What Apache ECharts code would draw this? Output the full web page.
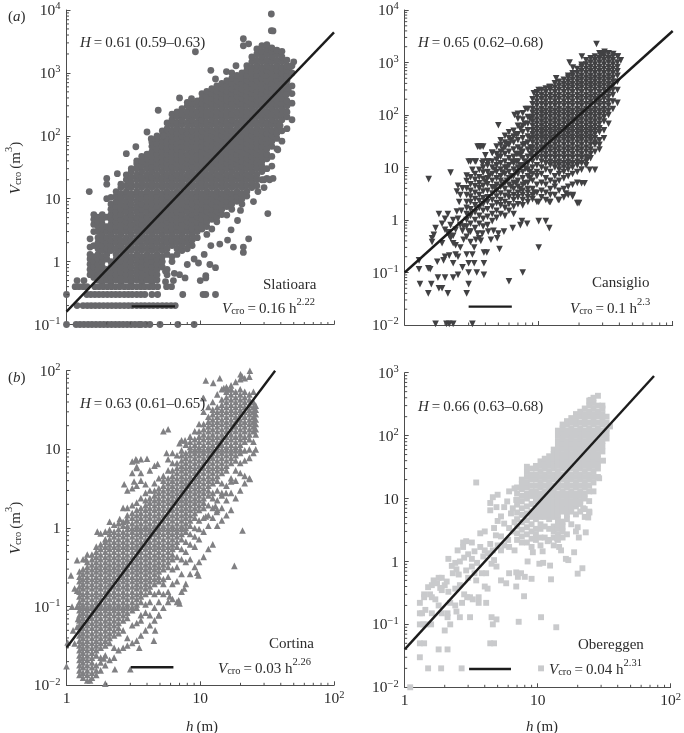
<!DOCTYPE html>
<html><head><meta charset="utf-8">
<style>html,body{margin:0;padding:0;background:#fff}#c{width:684px;height:733px}</style>
<script src="https://cdn.jsdelivr.net/npm/echarts@6/dist/echarts.min.js"></script>
</head><body><div id="c"></div>
<script>
// Slatioara: tree heights (columns) and crown volumes read in each column
const slatioaraHeights=[1.5,1.6,1.72,1.85,2,2.15,2.35,2.55,2.8,3.05,3.35,3.65,4,4.35,4.75,5.2,5.65,6.15,6.7,7.3,8,8.7,9.5,10.3,11.2,12.2,13.3,14.5,15.8,17.2,18.8,20.5,22.3,24.3,26.5,28.9,31.5,34.3,37.4,40.8,44.5,48.5];
const slatioaraVolumes=[
[.62,.75,.91,1.1,1.3,1.7,2.3],
[.56,.68,.82,1,1.2,1.8,3,3.9,4.7,5.6],
[.51,.62,.75,.91,1.1,1.3,1.6,2,2.4,3,3.6,4.3,5.1],
[.47,.56,.68,.82,1,1.2,1.5,1.8,2.2,2.7,3.3,3.9,4.7,5.6],
[.51,.62,.75,1.1,1.3,1.6,2,2.4,3,3.6,5.1,10],
[.47,.56,.68,.82,1,1.5,1.8,2.2,2.7,3.3,3.9,4.7,5.6,6.8,8.2,10.5],
[.51,.62,.75,.91,1.1,1.3,1.6,2,2.4,3,3.6,4.3,5.1,6.2,7.5,9.1,11,13],
[.47,.56,.68,.82,1,1.2,1.5,1.8,2.2,2.7,3.3,3.9,4.7,5.6,6.8,8.2,10,12,15,17],
[.51,.62,.75,.91,1.1,1.3,1.6,2,2.4,3,3.6,4.3,5.1,6.2,7.5,9.1,11,13,16,20,24],
[.47,.56,.68,.82,1,1.2,1.5,1.8,2.2,2.7,3.3,3.9,4.7,5.6,6.8,8.2,10,12,15,18,22,27,30],
[.51,.62,.75,.91,1.1,1.3,1.6,2,2.4,3,3.6,4.3,5.1,6.2,7.5,9.1,11,13,16,20,24,30,36,40],
[.47,.56,.68,.82,1,1.2,1.5,1.8,2.2,2.7,3.3,3.9,4.7,5.6,6.8,8.2,10,12,15,18,22,27,33,39,47],
[.51,.62,.75,.91,1.1,1.3,1.6,2,2.4,3,3.6,4.3,5.1,6.2,7.5,9.1,11,13,16,20,24,30,36,43,51],
[.47,.56,.68,.82,1,1.2,1.5,1.8,2.2,2.7,3.3,3.9,4.7,5.6,6.8,8.2,10,12,15,18,22,27,33,39,47,56,68,80],
[.51,.62,.75,.91,1.1,1.3,1.6,2,2.4,3,3.6,4.3,5.1,6.2,7.5,9.1,11,13,16,20,24,30,36,43,51,62,75,91,100],
[.82,1,1.2,1.5,1.8,2.2,2.7,3.3,3.9,4.7,5.6,6.8,8.2,10,12,15,18,22,27,33,39,47,56,68,82,100,120],
[.62,.75,1.3,1.6,2,2.4,3,3.6,4.3,5.1,6.2,7.5,9.1,11,13,16,20,24,30,36,43,51,62,75,91,110,130,160],
[1,1.2,1.8,2.2,2.7,3.3,3.9,4.7,5.6,6.8,8.2,10,12,15,18,22,27,33,39,47,56,68,82,100,120,150,180,220],
[1.3,1.6,2,2.4,3,3.6,4.3,5.1,6.2,7.5,9.1,11,13,16,20,24,30,36,43,51,62,75,91,110,130,160,200,240],
[1.5,1.8,2.2,2.7,3.3,3.9,4.7,5.6,6.8,8.2,10,12,15,18,22,27,33,39,47,56,68,82,100,120,150,180,220,270],
[1.6,2,2.4,3,3.6,4.3,5.1,6.2,7.5,9.1,11,13,16,20,24,30,36,43,51,62,75,91,110,130,160,200,240,300,340],
[1.8,2.2,2.7,3.3,3.9,4.7,5.6,6.8,8.2,10,12,15,18,22,27,33,39,47,56,68,82,100,120,150,180,220,270,330],
[2.4,3,3.6,4.3,5.1,6.2,7.5,9.1,11,13,16,20,24,30,36,43,51,62,75,91,110,130,160,200,240,300,360],
[3.3,3.9,4.7,5.6,6.8,8.2,10,12,15,18,22,27,33,39,47,56,68,82,100,120,150,180,220,270,330,390,470],
[2.7,3.6,4.3,5.1,6.2,7.5,9.1,11,13,16,20,24,30,36,43,51,62,75,91,110,130,160,200,240,300,360,430,510],
[3.3,4.7,5.6,6.8,8.2,10,12,15,18,22,27,33,39,47,56,68,82,100,120,150,180,220,270,330,390,470,560],
[4.3,5.1,6.2,7.5,9.1,11,13,16,20,24,30,36,43,51,62,75,91,110,130,160,200,240,300,360,430,510,620],
[5.6,6.8,8.2,10,12,15,18,22,27,33,39,47,56,68,82,100,120,150,180,220,270,330,390,470,560,680],
[5.5,7.5,9.1,11,13,16,20,24,30,36,43,51,62,75,91,110,130,160,200,240,300,360,430,510,620,750],
[6.8,8.2,10,12,15,18,22,27,33,39,47,56,68,82,100,120,150,180,220,270,330,390,470,560,680,820,1000],
[9.1,11,13,16,20,24,30,36,43,51,62,75,91,110,130,160,200,240,300,360,430,510,620,750,910],
[8.2,10,12,15,18,22,27,33,39,47,56,68,82,100,120,150,180,220,270,330,390,470,560,680,820,1000],
[11,13,16,20,24,30,36,43,51,62,75,91,110,130,160,200,240,300,360,430,510,620,750,910,1100,1300],
[15,18,22,27,33,39,47,56,68,82,100,120,150,180,220,270,330,390,470,560,680,820,1000,1200,1500,1800],
[16,20,24,30,36,43,51,62,75,91,110,130,160,200,240,300,360,430,510,620,750,910,1100,1300,1600,2000,2400],
[20,27,33,39,47,56,68,82,100,120,150,180,220,270,330,390,470,560,680,820,1000,1200,1500,1800,2200,2700],
[21,30,43,51,62,75,91,110,130,160,200,240,300,360,430,510,620,750,910,1100,1300,1600,2000,2400,2800],
[33,47,68,82,100,120,150,180,220,270,330,390,470,560,680,820,1000,1200,1500,1800,2200,2500],
[62,91,110,130,160,200,240,300,360,430,510,620,750,910,1100,1300,1600,2000,2300],
[82,120,180,220,270,330,390,470,560,680,820,1000,1200,1500,1800,2200],
[130,200,240,300,360,510,620,750,910,1100,1300,1600],
[180,330,470,620,1000,1300]
];
const slatioaraRowPoints=[[1.2,.5],[1.35,.5],[1.16,.4],[1.24,.4],[1.33,.4],[1.42,.4],[1.63,.4],[1.75,.4],[1.88,.4],[2.02,.4],[2.17,.4],[2.33,.4],[2.5,.4],[2.7,.4],[2.9,.4],[3.1,.4],[3.35,.4],[3.6,.4],[3.85,.4],[4.15,.4],[4.45,.4],[4.8,.4],[5.6,.4],[6.1,.4],
[1,.3],[1.42,.3],[1.52,.3],[1.63,.3],[1.75,.3],[1.88,.3],[2.02,.3],[2.17,.3],[2.33,.3],[2.5,.3],[2.7,.3],[2.9,.3],[3.1,.3],[3.35,.3],[3.6,.3],[3.85,.3],[4.35,.3],[4.8,.3],[7.4,.3],[10.5,.3],[11,.3],[13,.3],
[1.2,.2],[1.33,.2],[1.43,.2],[1.53,.2],[1.64,.2],[1.76,.2],[1.89,.2],[2.03,.2],[2.18,.2],[2.34,.2],[2.51,.2],[2.7,.2],[2.9,.2],[3.1,.2],[3.35,.2],[3.6,.2],[3.85,.2],[4.15,.2],[4.45,.2],[4.8,.2],[5.2,.2],[5.6,.2],[6.05,.2],[6.5,.2],
[1,.1],[1.18,.1],[1.26,.1],[1.35,.1],[1.45,.1],[1.55,.1],[1.66,.1],[1.78,.1],[1.9,.1],[2.03,.1],[2.17,.1],[2.32,.1],[2.48,.1],[2.65,.1],[2.84,.1],[3.04,.1],[3.25,.1],[3.48,.1],[3.62,.1],[3.9,.1],[4.2,.1],[5,.1],[6.8,.1],[9,.1]];
const slatioaraOutliers=[[34,8640],[34,4700],[35,4650],[9.2,2170],[4.85,255],[21,3500],[23,2900],[21,2700],[1.48,13],[32,5.8],[23,2.3],[21,1.7],[21,1.4],[17.7,1.7],[11.8,.9],[13,.8],[11,.6],[11,.55],[10,.5],[3.3,67],[2.8,52],[4,115],[4.3,90],[5.3,100],[2.4,25],[2,21],[2,17],[7,400],[8.6,390],[12,1100],[13,800],[18.5,1300],[15.7,1050],[50,1500],[47,1250],[45.5,530],[44,450],[39.5,146],[5.5,.7],[6.4,.65],[7,.62],[7.7,.55],[6.3,.5],[5.5,.48],[8,.9],[9,1.1],[9.7,.95],[10.7,1.3],[12,1.8],[14,1.9],[16,2.2],[17,3.2],[19,4.5],[20,6.5],[25,9],[27,13],[30,15],[33,20],[35,21],[30,20],[38,60]];

// Cansiglio
const cansiglioHeights=[2.9,3.1,3.35,3.6,3.85,4.15,4.5,4.85,5.2,5.6,6,6.5,7,7.6,8.3,9,9.7,10.5,11.3,12.2,13.2,14.2,15.4,16.6,17.9,19.4,20.9,22.6,24.4,26.3,28.4,30.7,33.2,35.8,38.7];
const cansiglioVolumes=[
[.75,1,1.3,1.7,2.2,3,4,5.5,7],
[.6,.85,1.2,1.6,2.2,2.8,3.6,4.8,6.5,13],
[.7,1,1.4,1.9,2.5,3.3,4.4,5.8,7.5,13],
[.85,1.2,1.7,2.3,3,4,5,6.5,9,25],
[.75,1.05,1.5,2,2.6,3.5,4.5,6,8,10,13,25],
[.8,1.15,1.6,2.2,2.7,3.6,4.8,6.2,8.2,11,13],
[.95,1.3,1.8,2.4,3.2,4.2,5.6,7.5,10,13,19],
[1.1,1.5,2.1,2.8,3.6,4.7,6.2,8.2,11,14,18,25],
[1.3,1.9,2.4,3.2,4.3,5.6,6.8,9.1,12,16,20,27,33],
[1.2,1.7,2.2,2.9,3.9,5.1,7.5,10,13,18,24,30,40],
[1.5,2,2.7,3.3,4.7,6.2,8.2,11,15,20,27,36,47],
[1.3,1.8,2.4,3,3.9,5.1,6.8,9.1,12,16,22,30,39,50],
[2,2.7,3.3,4.3,5.6,7.5,10,13,18,24,33,43,62,85],
[1.9,2.4,3,3.6,4.7,6.2,8.2,11,15,20,27,36,47,62,82,108],
[2.2,2.7,3.3,3.9,5.1,6.8,9.1,12,16,22,30,39,51,68,91,130],
[2.5,3,3.9,5.6,7.5,10,13,16,20,24,30,36,43,51,62,75,91,110,130,160,200],
[2.2,3.3,4.7,6.8,8.2,11,15,18,22,27,33,39,47,56,68,82,100,120,150,180,220,270],
[2.7,3.6,5.1,7.5,10,13,16,20,24,30,36,43,51,62,75,91,110,130,160,200,240,300],
[2.4,3.3,4.7,6.2,9.1,12,15,18,22,27,33,39,47,56,68,82,100,120,150,180,220,270,320],
[2.2,3,3.9,5.6,8.2,11,13,16,20,24,30,36,43,51,62,75,91,110,130,160,200,240,300,340],
[3,4.3,5.1,6.8,10,12,15,18,22,27,33,39,47,56,68,82,100,120,150,180,220,270,330,400],
[2.4,3.6,5.6,7.5,9.1,11,13,16,20,24,30,36,43,51,62,75,91,110,130,160,200,240,300,360,430],
[2.7,3.9,6.2,8.2,10,12,15,18,22,27,33,39,47,56,68,82,100,120,150,180,220,270,330,390,470],
[3,4.3,6.8,9.1,11,13,16,20,24,30,36,43,51,62,75,91,110,130,160,200,240,300,360,430,510,560],
[2.8,4.7,7.5,10,12,15,18,22,27,33,39,47,56,68,82,100,120,150,180,220,270,330,390,470,560,620],
[2.1,5.1,8.2,11,13,16,20,24,30,36,43,51,62,75,91,110,130,160,200,240,300,360,430,510,620,750],
[5,9.1,12,15,18,22,27,33,39,47,56,68,82,100,120,150,180,220,270,330,390,470,560,680,820,900],
[11,13,16,20,24,30,36,43,51,62,75,91,110,130,160,200,240,300,360,430,510,620,750,910,1100],
[15,18,22,27,33,39,47,56,68,82,100,120,150,180,220,270,330,390,470,560,680,820,1000,1200],
[9,20,27,30,36,43,51,62,75,91,110,130,160,200,240,300,360,430,510,620,750,910,1100,1300],
[22,27,33,47,56,68,82,100,120,150,180,220,270,330,390,470,560,680,820,1000,1200,1500],
[36,51,75,91,110,130,160,200,240,300,360,430,510,620,750,910,1100,1300,1500],
[68,100,120,150,180,220,270,330,390,470,560,680,820,1000,1200,1500],
[130,180,240,300,360,430,510,620,750,910,1100,1300],
[170,300,430,560,680,820,1000,1300]
];
const cansiglioSparsePoints=[[1.51,6],[2.2,8],[5,64],[1.28,.17],[1.28,.115],[1.5,.12],[1.55,.115],[1.3,.06],[1.58,.06],[1.5,.04],[1.8,.05],[1.9,.05],[2.1,.04],[2.9,.04],[3,.06],[1.77,.08],[2,.08],[2.3,.08],[2.5,.09],[3,.1],[3.45,.1],[3.9,.09],[6,.068],[7.6,.1],[10,.3],[5.1,.28],[12,.7],[11.3,.95],[10,.95],[8.2,.85],[6.4,.7],[5.5,.6],[5,.55],[4.9,.45],[7.5,.95],[7.3,.8],[1.7,.0105],[2.05,.0105],[2.15,.0105],[2.3,.0105],[3.2,.0105],[1.75,.16],[1.95,.17],[2.4,.22],[2.5,.2],[2.9,.22],[3.2,.22],[3.3,.15],[3.9,.24],[4.1,.24],[2.7,.125],[2.3,.15],[2,.2],[2.15,.21],[3,.15],[3.9,.15],[1.6,.45],[1.6,.38],[1.9,.85],[1.8,1.3],[2.1,1.3],[2,1.05],[1.7,.7],[2,.65],[2.15,.5],[2.3,.5],[2.4,.65],[2.5,1.05],[1.9,.36],[2.4,.33],[2.2,.45],[2.75,.75],[2.9,.48],[2.75,.42],[3.1,.38],[3.4,.42],[3.8,.55],[4.2,.6],[3,.6],[3.5,.55],[2.45,3.5],[2.5,4.5],[2.6,3],[2.7,4],[2.55,2.2],[2.65,1.5],[2.2,.8],[2.1,.58],[1.65,.52],[2.3,.36],[2.6,.3],[2.7,.62],[2.6,.8],[2.45,1.45],[2.3,1],[3.7,.4],[3.3,.3],[3.6,.45],[4.4,.42],[4.6,.62],[3,13],[3.4,13],[3.5,25],[3.7,25],[4.2,13],[4.5,19],[4,17],[3.8,12],[3.2,9],[39,1300],[33,1500],[27,2250],[31,1600],[36,1450],[41,1100],[29,1400],[21,1300],[18,800],[17,1000],[13.5,500],[10,300],[12,340],[9.2,260],[8,130],[7,105],[6.6,100],[24,9],[23,14],[18,3],[20,2.1],[16,3.2],[22,5],[14,2.4],[12,2.2],[10,2.2],
[5.4,8],[5.8,10],[6.3,13],[6.8,18],[7.3,22],[7.9,28],[8.6,36],[5,16],[5.4,22],[5.8,28],[6.2,33],[6.8,42],[7.3,55],[7.9,68],[8.6,85],[6.3,6.8],[6.8,8.2],[7.3,11],[7.9,13],[8.7,18],[8.7,24],[9.3,3.3],[4.7,9],[4.3,7],[4,5.4],[4.7,4],[5.4,4.7],[5.8,5.6],[6.2,4.3],[6.8,5],[7.3,3.9],[7.9,5],[8.6,6.2],[8.6,8.2],[8,9.5],[7.3,17],[6.8,13]];

// Cortina
const cortinaHeights=[1.25,1.33,1.43,1.55,1.67,1.8,1.95,2.1,2.27,2.45,2.65,2.85,3.1,3.35,3.6,3.9,4.2,4.55,4.9,5.3,5.75,6.2,6.7,7.25,7.8,8.4,9.1,9.8,10.6,11.5,12.4,13.4,14.5,15.7,17,18.4,19.9,21.5,23.3,25,26];
const cortinaVolumes=[
[.0135,.0155,.018,.021,.024,.028,.032,.037,.043,.05,.058,.067,.078,.09,.1,.115,.135,.155,.18,.21,.24,.28],
[.0125,.0145,.017,.0195,.0225,.026,.03,.0345,.04,.046,.054,.062,.072,.084,.097,.107,.125,.145,.17,.195,.225,.26,.3,.4],
[.0115,.0135,.0155,.018,.021,.024,.028,.032,.037,.043,.05,.058,.067,.078,.09,.1,.115,.135,.155,.18,.21,.24,.28,.32,.37,.46],
[.0125,.0145,.017,.0195,.0225,.026,.03,.0345,.04,.046,.054,.062,.072,.084,.097,.107,.125,.145,.17,.195,.225,.26,.3,.345,.4,.46],
[.0135,.0155,.018,.024,.028,.032,.037,.043,.05,.058,.067,.078,.09,.1,.115,.135,.155,.18,.21,.24,.28,.32,.37,.43,.5,.58],
[.0155,.0195,.0225,.03,.0345,.04,.046,.054,.062,.072,.084,.097,.107,.125,.145,.17,.195,.225,.26,.3,.345,.4,.46,.54,.62],
[.018,.024,.032,.037,.043,.05,.058,.067,.078,.09,.1,.115,.135,.155,.18,.21,.24,.28,.32,.37,.43,.5,.58,.67,.72,.9],
[.021,.0345,.04,.046,.054,.062,.072,.084,.097,.107,.125,.145,.17,.195,.225,.26,.3,.345,.4,.46,.54,.62,.72,.84,.95],
[.0225,.03,.043,.05,.058,.067,.078,.09,.1,.115,.135,.155,.18,.21,.24,.28,.32,.37,.43,.5,.58,.67,.78,.9,1.1],
[.028,.046,.054,.062,.072,.084,.097,.107,.125,.145,.17,.195,.225,.26,.3,.345,.4,.46,.54,.62,.72,.84,.97,1.15],
[.03,.05,.067,.078,.09,.1,.115,.135,.155,.18,.21,.24,.28,.32,.37,.43,.5,.58,.67,.78,.9,1.07,1.2,1.8],
[.032,.04,.072,.084,.097,.107,.125,.145,.17,.195,.225,.26,.3,.345,.4,.46,.54,.62,.72,.84,.97,1.07,1.25,1.45,1.8,3],
[.0345,.058,.09,.1,.115,.135,.155,.18,.21,.24,.28,.32,.37,.43,.5,.58,.67,.78,.9,1,1.15,1.35,1.55,1.95,3.2,5,7],
[.037,.062,.097,.107,.125,.145,.17,.195,.225,.26,.3,.345,.4,.46,.54,.62,.72,.84,.97,1.07,1.25,1.45,1.7,2.1,3.45,5.8,7.2],
[.043,.067,.078,.115,.135,.155,.18,.21,.24,.28,.32,.37,.43,.5,.58,.67,.78,.9,1,1.15,1.35,1.55,1.8,2.4,4,5,7.5],
[.05,.084,.107,.145,.17,.195,.225,.26,.3,.345,.4,.46,.54,.62,.72,.84,.97,1.07,1.25,1.45,1.7,1.95,2.25,2.8,3.6],
[.058,.078,.115,.155,.18,.21,.24,.28,.32,.37,.43,.5,.58,.67,.78,.9,1,1.15,1.35,1.55,1.8,2.1,2.4,3,5.4],
[.067,.097,.145,.195,.225,.26,.3,.345,.4,.46,.54,.62,.72,.84,.97,1.07,1.25,1.45,1.7,1.95,2.25,2.6,3,3.7,6.2],
[.078,.115,.155,.21,.24,.28,.32,.37,.43,.5,.58,.67,.78,.9,1,1.15,1.35,1.55,1.8,2.1,2.4,2.8,3.2,4.3],
[.097,.145,.195,.225,.3,.345,.4,.46,.54,.62,.72,.84,.97,1.07,1.25,1.45,1.7,1.95,2.25,2.6,3,3.45,4,4.6,17],
[.115,.155,.24,.32,.37,.43,.5,.58,.67,.78,.9,1,1.15,1.35,1.55,1.8,2.1,2.4,2.8,3.2,3.7,4.3,5.4,7.5,18],
[.125,.195,.3,.4,.46,.54,.62,.72,.84,.97,1.07,1.25,1.45,1.7,1.95,2.25,2.6,3,3.45,4,4.6,5.4,6.7],
[.115,.21,.32,.43,.58,.67,.78,.9,1,1.15,1.35,1.55,1.8,2.1,2.4,2.8,3.2,3.7,4.3,5,5.8,6.7,8.4],
[.155,.26,.4,.54,.72,.84,.97,1.07,1.25,1.45,1.7,1.95,2.25,2.6,3,3.45,4,4.6,5.4,6.2,7.2,8.4,9.7,13],
[.195,.37,.5,.67,.9,1,1.15,1.35,1.55,1.8,2.1,2.4,2.8,3.2,3.7,4.3,5,5.8,6.7,7.8,9,11.5],
[.26,.4,.62,.84,1.07,1.25,1.45,1.7,1.95,2.25,2.6,3,3.45,4,4.6,5.4,6.2,7.2,8.4,9.7,10.7,12.5,14.5],
[.32,.58,.78,1,1.35,1.55,1.8,2.1,2.4,2.8,3.2,3.7,4.3,5,5.8,6.7,7.8,9,10,11.5,13.5,17],
[.37,.72,.97,1.25,1.7,1.95,2.25,2.6,3,3.45,4,4.6,5.4,6.2,7.2,8.4,9.7,10.7,12.5,14.5,17,21],
[.43,.9,1.35,1.8,2.1,2.4,2.8,3.2,3.7,4.3,5,5.8,6.7,7.8,9,10,11.5,13.5,15.5,18,21,30,45],
[.54,1.07,1.45,1.95,2.6,3,3.45,4,4.6,5.4,6.2,7.2,8.4,9.7,10.7,12.5,14.5,17,19.5,22.5,26,34.5],
[.62,1.35,1.8,2.4,2.8,3.7,4.3,5,5.8,6.7,7.8,9,10,11.5,13.5,15.5,18,21,24,28,32,40],
[1.07,1.7,2.25,3,4,4.6,5.4,6.2,7.2,8.4,9.7,10.7,12.5,14.5,17,19.5,22.5,26,30,34.5,50],
[1.25,1.8,2.8,3.7,5,5.8,6.7,7.8,9,10,11.5,13.5,15.5,18,21,24,28,32,37,43,58],
[1.45,2.25,3.45,5.4,6.2,7.2,8.4,9.7,10.7,12.5,14.5,17,19.5,22.5,26,30,34.5,40,46,54,62],
[1.7,2.8,4.3,6.7,7.8,9,10,11.5,13.5,15.5,18,21,24,28,32,37,43,50,58,65],
[2.4,4,5.4,7.2,8.4,9.7,10.7,12.5,14.5,17,19.5,22.5,26,30,34.5,40,46,54,72],
[3,5,6.7,9,10,11.5,13.5,15.5,18,21,24,28,32,37,43,50,58,78],
[3.7,4.6,7.2,9.7,12.5,14.5,17,19.5,22.5,26,30,34.5,40,46,54,80],
[4.3,7.8,10,13.5,15.5,18,21,24,28,32,37,43,50,84],
[9,12.5,17,19.5,22.5,26,30,34.5,40,54],
[10,15.5,18,21,24,28,32,36]
];
const cortinaOutliers=[[1,.0175],[1.02,.035],[1.15,.034],[1.1,.1],[1.12,.05],[1.2,.39],[1.08,.25],[1.15,.17],[1.2,.16],[1.2,.1],[1.22,.07],[1.2,.055],[1.95,.0105],[1.4,.4],[1.7,.9],[1.8,.85],[2.1,1.2],[2.5,1.3],[2.8,1.25],[2.7,3.6],[3.2,3.9],[3.3,7.5],[3.35,6],[4,7.6],[4.8,6.5],[5.6,9],[6.2,9],[7,12],[7.7,13],[4.6,.05],[4.5,.037],[3.5,.03],[4.9,.078],[5.9,.135],[7,.11],[6.9,.12],[7.6,.17],[9.5,.27],[9.7,.25],[18,.33],[20.7,.93],[11,1.4],[13,1.9],[13.3,1.6],[14.5,2.6],[15.6,2.8],[17,3.9],[23.5,4.2],[23.5,100],[20,90],[20.5,85],[14,80],[12.5,70],[11,75],[15,60],[16,58],[17,58],[10.5,45],[3,.016],[1.5,.0115],[2.3,.016],[1.9,.022]];

// Obereggen
const obereggenHeights=[7,7.6,8.3,9,9.7,10.5,11.3,12.2,13.2,14.2,15.4,16.6,17.9,19.4,20.9,22.6,24.4,26.3,28.4,30.7,33];
const obereggenVolumes=[
[2.2,2.8,3.6,4.7,6,8,9.5,12,15],
[2,2.5,3.2,4.2,5.5,7,9,11,14,17,20],
[2,2.7,3.5,4.5,5.8,7.5,10,12,15,18,22,27,32],
[1.7,2.3,3,3.9,5.1,6.2,8.2,11,13,16,20,24,30],
[2.2,2.7,3.3,4.7,5.6,6.8,9.1,11,13,16,20,24,30,33],
[1.8,2.4,3.3,3.9,5.1,6.2,7.5,8.2,10,12,15,18,22,27,33,39],
[2.4,3.6,5.1,6.2,7.5,9.1,11,13,16,20,24,30,36,43],
[2.2,3.3,4.7,5.6,6.8,8.2,10,12,15,18,22,27,33,39,47],
[1.8,2.4,3,3.6,5.1,6.2,7.5,9.1,11,13,16,20,24,30,36,43,51,60],
[2.2,2.7,3.3,3.9,4.7,5.6,6.8,8.2,10,12,15,18,22,27,33,39,47,56,68,82,100,120],
[2.4,3,3.6,4.3,6.2,7.5,9.1,11,13,16,20,24,30,36,43,51,62,75,91,110,130,150],
[2.7,4.7,5.6,6.8,8.2,10,12,15,18,22,27,33,39,47,56,68,82,100,120,150,170],
[3.9,6.2,7.5,9.1,11,13,16,20,24,30,36,43,51,62,75,91,110,130,160,190],
[3,5.6,7.5,8.2,10,12,15,18,22,27,33,39,47,56,68,82,100,120,150,180,220],
[6.2,8.2,9.1,11,13,16,20,24,30,36,43,51,62,75,91,110,130,160,200,240],
[5.1,6.8,10,12,15,18,22,27,33,39,47,56,68,82,100,120,150,180,220,270],
[6.2,9.1,13,16,20,24,30,36,43,51,62,75,91,110,130,160,200,240,300,360],
[13,18,22,27,33,39,47,56,68,82,100,120,150,180,220,270,330,400],
[22,30,36,43,51,62,75,91,110,130,160,200,240,300,430],
[56,68,82,100,120,150,180,220,270,300],
[110,130,160,200]
];
const obereggenSparsePoints=[[1.1,.01],[1.5,.02],[1.88,.02],[2.68,.02],[10.6,.02],[1.3,.03],[1.3,.05],[1.4,.05],[1.8,.04],[2.1,.04],[4.4,.05],[4.7,.05],[4.6,.1],[4.5,.13],[4.9,.12],[3.1,.13],[2.6,.13],[7.2,.11],[10.6,.13],[13.8,.09],[3.45,18],[1.3,.22],[1.3,.15],[1.3,.1],[1.38,.1],[1.45,.1],[1.58,.1],[1.6,.15],[1.43,.17],[1.8,.2],[1.9,.15],[2,.08],[2.2,.1],[2.1,.13],[2.1,.15],[2.4,.2],[2.45,.16],[2.7,.22],[1.4,.3],[1.4,.27],[1.6,.27],[1.7,.25],[1.5,.39],[1.65,.5],[1.8,.55],[1.9,.55],[1.75,.45],[2,.42],[2.07,.48],[1.9,.35],[2.13,.33],[2.4,.37],[2.26,.85],[2.4,.95],[2.6,1],[2.13,1.1],[2.5,1.5],[2.75,1.7],[2.75,2],[2.9,2.1],[3.2,2],[2.45,.75],[2.9,.72],[3.2,.83],[3.35,.65],[3,.55],[3.45,.5],[3.8,.65],[4.1,.65],[4.5,.92],[4.9,.83],[3.1,.27],[3.25,.25],[3.6,.27],[3.6,.22],[4.1,.22],[4.2,.37],[4,.4],[5.3,.5],[5.8,.45],[6.9,.4],[7.9,.28],[7.1,.57],[8,.57],[9,.53],[6.1,.65],[6.9,.67],[7.5,.65],[12.6,.52],[20,.64],[21.7,.78],[10.3,.92],[11,.95],[12.4,.86],[8.4,1],[9.2,1.4],[10.9,1.45],[11.9,2.1],[14,2.3],[16.3,1.1],[17,1.05],[18.8,1.4],[20.4,2.4],[23,2.9],[15,1.5],[14.5,1.7],[3.7,2.8],[4,3],[3.35,1.45],[3.7,1.7],[3.9,1.2],[4.2,1.35],[4.6,1.5],[5,1.8],[4.4,1.9],[4.7,1.05],[5.3,1.5],[5.6,1.8],[6.1,1.7],[6.7,1.5],[6,2.2],[5.3,2.5],[4.85,2.6],[4,1.5],[4.4,8.5],[4.6,10.5],[5,11.5],[4.4,6.5],[4.9,7.3],[5.3,5.2],[5.6,7.3],[6.1,13],[6.7,14.5],[5,4.4],[4.7,3.4],[6.3,5.8],[6.9,9.5],[5.6,4],[6.1,3.4],[5.9,9],[6.5,3],[6.7,4.2],[6.5,7],[3.2,1.1],[3.5,.95],[3,1.3],[2.8,1.15],[2.3,.65],[2.55,.62],[2.6,.42],[2.8,.3],[2.95,.27],[1.55,.3],[1.6,.42],[1.85,.38],[2.2,.22],[1.35,.15],[13,13],[24,5],[24.5,6],[20,3.5],[22,7],[29,21],[31,40],[35,140],[33,90],[25,370],[17,120],[19,170]];

// Fit lines and legend dashes
const slatioaraFit=[[1,.16],[100,4400]], cansiglioFit=[[1,.1],[100,3981]], cortinaFit=[[1,.03],[36.3,100]], obereggenFit=[[1,.04],[75,885]];
const slatioaraDash=[[3.07,.194],[6.47,.194]], cansiglioDash=[[3,.0224],[6.3,.0224]], cortinaDash=[[3.03,.017],[6.3,.017]], obereggenDash=[[3.05,.0195],[6.3,.0195]];
const minorDigits=[2,3,4,5,6,7,8,9];

const ink='#2b2b2b', axisInk='#4d4d4d', serif='"Liberation Serif","Times New Roman",serif';
const expand=(hs,vs)=>hs.flatMap((h,i)=>vs[i].map(v=>[h,v]));
const panels=[
 {grid:{left:66.5,top:10,width:267.5,height:314.5},yMin:.1,yMax:1e4,color:'#68686b',symbol:'circle',size:6.8,rotate:0,
  pts:expand(slatioaraHeights,slatioaraVolumes).concat(slatioaraRowPoints,slatioaraOutliers),fit:slatioaraFit,dash:slatioaraDash,xLabels:false},
 {grid:{left:404.7,top:10,width:268,height:315},yMin:.01,yMax:1e4,color:'#414143',symbol:'triangle',size:6.6,rotate:180,
  pts:expand(cansiglioHeights,cansiglioVolumes).concat(cansiglioSparsePoints),fit:cansiglioFit,dash:cansiglioDash,xLabels:false},
 {grid:{left:66.5,top:370.7,width:267.5,height:314.6},yMin:.01,yMax:100,color:'#808083',symbol:'triangle',size:6.6,rotate:0,
  pts:expand(cortinaHeights,cortinaVolumes).concat(cortinaOutliers),fit:cortinaFit,dash:cortinaDash,xLabels:true},
 {grid:{left:404.7,top:372.7,width:268,height:314.6},yMin:.01,yMax:1000,color:'#c9cacc',symbol:'rect',size:5.9,rotate:0,
  pts:expand(obereggenHeights,obereggenVolumes).concat(obereggenSparsePoints),fit:obereggenFit,dash:obereggenDash,xLabels:true}
];
const tickRich={n:{fontFamily:serif,fontSize:15.5,color:ink,lineHeight:18,verticalAlign:'bottom'},s:{fontFamily:serif,fontSize:10.5,color:ink,lineHeight:18,verticalAlign:'top'}};
const powerLabel=v=>{const e=Math.round(Math.log10(v));
  if(e===0)return '{n|1}'; if(e===1)return '{n|10}';
  return '{n|10}{s|'+(e<0?'\u2212'+(-e):e)+'}';};
const decades=(a,b)=>{const o=[];for(let e=Math.round(Math.log10(a));e<Math.round(Math.log10(b));e++)o.push(Math.pow(10,e));return o;};
const axisCommon={type:'log',logBase:10,splitLine:{show:false},minorTick:{show:false},
  axisLine:{show:true,onZero:false,lineStyle:{color:axisInk,width:1}},
  axisTick:{show:true,inside:true,length:4,lineStyle:{color:axisInk,width:1}}};
const grids=[],xAxes=[],yAxes=[],series=[];
panels.forEach((p,i)=>{
  grids.push(p.grid);
  xAxes.push({...axisCommon,gridIndex:i,min:1,max:100,
    axisLabel:{show:p.xLabels,margin:4,formatter:powerLabel,rich:tickRich,showMinLabel:true,showMaxLabel:true,hideOverlap:false}});
  yAxes.push({...axisCommon,gridIndex:i,min:p.yMin,max:p.yMax,
    axisLabel:{show:true,margin:6,formatter:powerLabel,rich:tickRich,showMinLabel:true,showMaxLabel:true,hideOverlap:false}});
  series.push({type:'scatter',xAxisIndex:i,yAxisIndex:i,data:p.pts,symbol:p.symbol,symbolSize:p.size,symbolRotate:p.rotate,
    itemStyle:{color:p.color,opacity:1},large:false,progressive:0,silent:true,clip:false,z:2});
  [p.fit,p.dash].forEach(d=>series.push({type:'line',xAxisIndex:i,yAxisIndex:i,data:d,showSymbol:false,symbol:'none',
    lineStyle:{color:'#1c1c1c',width:2.4},silent:true,z:5,clip:false}));
  const xm=decades(1,100).flatMap(d=>minorDigits.map(k=>[d*k,p.yMin]));
  const ym=decades(p.yMin,p.yMax).flatMap(d=>minorDigits.map(k=>[1,d*k]));
  series.push({type:'custom',xAxisIndex:i,yAxisIndex:i,data:xm,silent:true,clip:false,z:6,encode:{x:0,y:1},
    renderItem:(c,api)=>{const q=api.coord([api.value(0),api.value(1)]);
      return {type:'line',shape:{x1:q[0],y1:q[1],x2:q[0],y2:q[1]-2.5},style:{stroke:axisInk,lineWidth:1}};}});
  series.push({type:'custom',xAxisIndex:i,yAxisIndex:i,data:ym,silent:true,clip:false,z:6,encode:{x:0,y:1},
    renderItem:(c,api)=>{const q=api.coord([api.value(0),api.value(1)]);
      return {type:'line',shape:{x1:q[0],y1:q[1],x2:q[0]+2.5,y2:q[1]},style:{stroke:axisInk,lineWidth:1}};}});
});
const rich={
  r:{fontFamily:serif,fontSize:15,color:ink,lineHeight:20,verticalAlign:'bottom'},
  i:{fontFamily:serif,fontSize:15,fontStyle:'italic',color:ink,lineHeight:20,verticalAlign:'bottom'},
  sub:{fontFamily:serif,fontSize:10.5,color:ink,lineHeight:17,verticalAlign:'bottom'},
  sup:{fontFamily:serif,fontSize:10.5,color:ink,lineHeight:14,verticalAlign:'top'}
};
const txt=(x,y,text,opt={})=>({type:'text',x,y,rotation:opt.rot||0,z:20,silent:true,
  style:{text,rich,fontFamily:serif,fontSize:15,fill:ink,align:opt.align||'left',verticalAlign:'middle'}});
const H=(h,rng)=>'{i|H}{r|\u2009=\u2009'+h+' ('+rng+')}';
const V=(c,e)=>'{i|V}{sub|cro}{r|\u2009=\u2009'+c+' h}{sup|'+e+'}';
const yName='{i|V}{sub|cro}{r|\u2009(m}{sup|3}{r|)}';
const texts=[
 txt(8,15,'{r|(}{i|a}{r|)}'),txt(8,376,'{r|(}{i|b}{r|)}'),
 txt(80,41,H('0.61','0.59\u20130.63')),txt(418,41,H('0.65','0.62\u20130.68')),
 txt(80,402,H('0.63','0.61\u20130.65')),txt(418,405,H('0.66','0.63\u20130.68')),
 txt(263,283,'{r|Slatioara}'),txt(592,281,'{r|Cansiglio}'),txt(269,642,'{r|Cortina}'),txt(578,643,'{r|Obereggen}'),
 txt(222,307,V('0.16','2.22')),txt(570,307,V('0.1','2.3')),txt(218,667,V('0.03','2.26')),txt(549,668,V('0.04','2.31')),
 txt(14,168,yName,{rot:Math.PI/2,align:'center'}),txt(14,528,yName,{rot:Math.PI/2,align:'center'}),
 txt(202,725,'{i|h}{r|\u2009(m)}',{align:'center'}),txt(542,725,'{i|h}{r|\u2009(m)}',{align:'center'})
];
const chart=echarts.init(document.getElementById('c'),null,{renderer:'canvas'});
chart.setOption({animation:false,backgroundColor:'#fff',tooltip:{show:false},grid:grids,xAxis:xAxes,yAxis:yAxes,series,graphic:{elements:texts}});
</script></body></html>
